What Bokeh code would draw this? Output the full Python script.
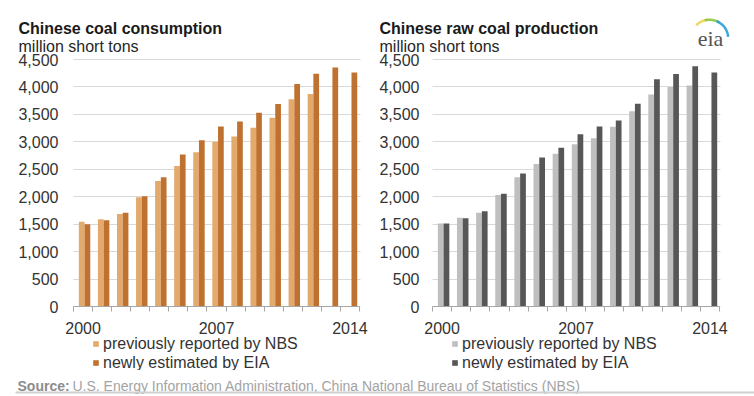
import math
from bokeh.plotting import figure
from bokeh.models import (ColumnDataSource, Range1d, FixedTicker, NumeralTickFormatter,
                          Label, Legend, LegendItem, PolyAnnotation, BoxAnnotation)
from bokeh.layouts import column, row
from bokeh.embed import file_html
from bokeh.resources import INLINE
from bokeh.transform import dodge

# ---------------- data ----------------
years = list(range(2000, 2015))
tick_years = [2000, 2007, 2014]
y_ticks = [0, 500, 1000, 1500, 2000, 2500, 3000, 3500, 4000, 4500]

cons_nbs = [1543, 1591, 1683, 1990, 2285, 2560, 2811, 3000, 3098, 3256, 3439, 3775, 3870, None, None]
cons_eia = [1500, 1573, 1707, 2010, 2354, 2769, 3030, 3281, 3372, 3531, 3690, 4055, 4240, 4355, 4265]
prod_nbs = [1510, 1616, 1707, 2030, 2354, 2598, 2781, 2957, 3067, 3275, 3555, 3864, 4000, 4025, None]
prod_eia = [1510, 1610, 1735, 2055, 2421, 2714, 2890, 3140, 3281, 3390, 3695, 4142, 4235, 4377, 4265]

series_labels = ["previously reported by NBS", "newly estimated by EIA"]
titles = ["Chinese coal consumption", "Chinese raw coal production"]
unit_label = "million short tons"
source_head = "Source:"
source_body = "U.S. Energy Information Administration, China National Bureau of Statistics (NBS)"

FONT = "Liberation Sans"
TXT = "#333333"
FIG_W, FIG_H = 377, 370
PLOT_TOP, PLOT_BOTTOM = 59, 306          # pixel rows of 4500 and 0
X0, X1 = years[0] - 0.5, years[-1] + 0.5
Y0, Y1 = y_ticks[0], y_ticks[-1]


def make_chart(title, nbs, eia, c_nbs, c_eia, plot_left, plot_w, standoff, title_x, legend_x, logo=False):
    # whole canvas is the frame; ranges chosen so the plot area sits at the given pixels
    ppx = plot_w / (X1 - X0)
    ppy = (PLOT_BOTTOM - PLOT_TOP) / (Y1 - Y0)
    fx = lambda px: X0 + (px - plot_left) / ppx
    fy = lambda py: Y0 + (PLOT_BOTTOM - py) / ppy

    p = figure(width=FIG_W, height=FIG_H, output_backend="svg", toolbar_location=None,
               title_location=None,
               x_range=Range1d(fx(0), fx(FIG_W)), y_range=Range1d(fy(FIG_H), fy(0)),
               min_border=0)
    p.outline_line_color = None
    p.background_fill_color = "white"
    p.border_fill_color = "white"

    # grid lines only across the plot area
    g = p.ygrid[0]
    g.ticker = FixedTicker(ticks=y_ticks)
    g.grid_line_color = "#d9d9d9"
    g.grid_line_width = 1
    g.bounds = (Y0, Y1)
    if "cross_bounds" in g.properties():
        g.cross_bounds = (X0, X1 + 0.05)
    else:
        g.visible = False
        p.segment(x0=[X0] * len(y_ticks), x1=[X1 + 0.05] * len(y_ticks), y0=y_ticks, y1=y_ticks,
                  line_color="#d9d9d9", line_width=1)
    p.xgrid.visible = False

    s_nbs = ColumnDataSource(dict(year=[y for y, v in zip(years, nbs) if v is not None],
                                  val=[v for v in nbs if v is not None]))
    s_eia = ColumnDataSource(dict(year=[y for y, v in zip(years, eia) if v is not None],
                                  val=[v for v in eia if v is not None]))
    r1 = p.vbar(x=dodge("year", -0.07), top="val", width=0.3, source=s_nbs,
                fill_color=c_nbs, line_color=None)
    r2 = p.vbar(x=dodge("year", 0.23), top="val", width=0.3, source=s_eia,
                fill_color=c_eia, line_color=None)

    # x axis at y = 0: labels at 2000/2007/2014, small ticks between the years
    xa = p.xaxis[0]
    xa.fixed_location = 0
    xa.bounds = (X0, X1)
    xa.ticker = FixedTicker(ticks=tick_years, minor_ticks=[y - 0.5 for y in years] + [X1])
    xa.major_tick_out = 0
    xa.major_tick_in = 0
    xa.minor_tick_out = 5
    xa.minor_tick_in = 0
    xa.minor_tick_line_color = "#a6a6a6"
    xa.axis_line_color = "#a6a6a6"
    xa.major_label_text_font = FONT
    xa.major_label_text_font_size = "16px"
    xa.major_label_text_color = TXT
    xa.major_label_standoff = 10

    # y axis at the left edge of the plot area
    ya = p.yaxis[0]
    ya.fixed_location = X0
    ya.bounds = (Y0, Y1)
    ya.ticker = FixedTicker(ticks=y_ticks)
    ya.formatter = NumeralTickFormatter(format="0,0")
    ya.axis_line_color = None
    ya.major_tick_out = 0
    ya.major_tick_in = 0
    ya.minor_tick_out = 0
    ya.minor_tick_in = 0
    ya.major_label_text_font = FONT
    ya.major_label_text_font_size = "16px"
    ya.major_label_text_color = TXT
    ya.major_label_standoff = standoff

    # titles
    p.add_layout(Label(x=fx(title_x), y=fy(28), text=title, text_font=FONT, text_font_size="16px",
                       text_font_style="bold", text_color="#1a1a1a", text_baseline="alphabetic"))
    p.add_layout(Label(x=fx(title_x), y=fy(46), text=unit_label, text_font=FONT,
                       text_font_size="16px", text_color="#262626", text_baseline="alphabetic"))

    legend = Legend(items=[LegendItem(label=series_labels[0], renderers=[r1]),
                           LegendItem(label=series_labels[1], renderers=[r2])],
                    location=(legend_x, -2), orientation="vertical",
                    glyph_width=7, glyph_height=7, label_standoff=4, spacing=0,
                    padding=0, margin=0, label_height=19,
                    label_text_font=FONT, label_text_font_size="16px", label_text_color=TXT,
                    border_line_color=None, background_fill_alpha=0)
    p.add_layout(legend)

    if logo:
        p.add_layout(Label(x=fx(333), y=fy(38), text="eia", text_font="Liberation Serif",
                           text_font_size="22px", text_color="#555555",
                           text_align="center", text_baseline="alphabetic"))
        cx, cy = 332, 38
        bands = [(135, 95, "#f2d34f"), (105, 58, "#8cc63f"), (68, 5, "#2a9fd8")]
        for a0, a1, col in bands:
            n = 12
            angs = [math.radians(a0 + (a1 - a0) * k / n) for k in range(n + 1)]
            outer = [(cx + 20 * math.cos(a), cy - 20 * math.sin(a)) for a in angs]
            inner = [(cx + 17.5 * math.cos(a), cy - 17.5 * math.sin(a)) for a in reversed(angs)]
            pts = outer + inner
            p.add_layout(PolyAnnotation(xs=[fx(q[0]) for q in pts], ys=[fy(q[1]) for q in pts],
                                        fill_color=col, fill_alpha=0.9, line_color=None))
    return p


left = make_chart(titles[0], cons_nbs, cons_eia, "#e3aa6e", "#bf7230", 73, 286, 15, 18, 92)
right = make_chart(titles[1], prod_nbs, prod_eia, "#bfbfbf", "#575757", 55, 287, 13, 2, 74, logo=True)

bottom = figure(width=754, height=26, output_backend="svg", toolbar_location=None,
                x_range=Range1d(0, 754), y_range=Range1d(0, 26),
                x_axis_location=None, y_axis_location=None, min_border=0)
bottom.outline_line_color = None
bottom.grid.visible = False
bottom.add_layout(Label(x=17, y=11, text=source_head, text_font=FONT, text_font_size="14px",
                        text_font_style="bold", text_color="#8c8c8c", text_baseline="alphabetic"))
bottom.add_layout(Label(x=72, y=11, text=source_body, text_font=FONT, text_font_size="14px",
                        text_color="#a3a3a3", text_baseline="alphabetic"))
bottom.add_layout(BoxAnnotation(left=15, right=754, bottom=3, top=5, fill_color="#d0d0d0",
                                fill_alpha=1, line_color=None))

layout = column(row(left, right), bottom)
open("out.html", "w").write(file_html(layout, INLINE))
